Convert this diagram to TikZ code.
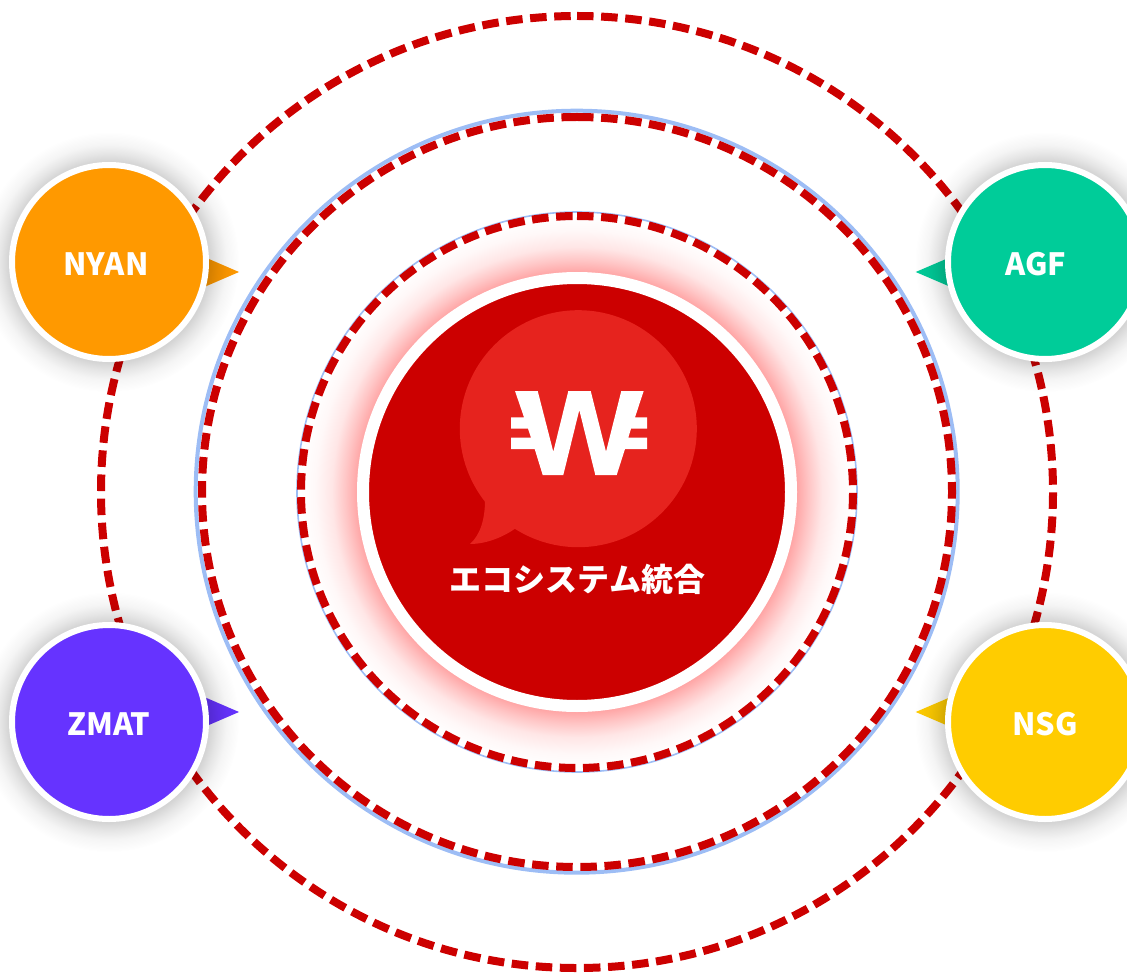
\documentclass[tikz,border=0pt]{standalone}
\usepackage{fontspec}
\newfontfamily\cjkfont{Noto Sans CJK JP}
\usetikzlibrary{fadings}

\definecolor{ringred}{RGB}{204,0,0}
\definecolor{ringblue}{RGB}{157,189,245}
\definecolor{bubblered}{RGB}{230,35,30}
\definecolor{nyanorange}{RGB}{255,153,0}
\definecolor{agfgreen}{RGB}{0,204,153}
\definecolor{zmatviolet}{RGB}{102,51,255}
\definecolor{nsgyellow}{RGB}{255,204,0}
\definecolor{glowa}{RGB}{255,165,165}
\definecolor{glowb}{RGB}{255,198,198}
\definecolor{glowc}{RGB}{255,230,230}
\definecolor{glowd}{RGB}{255,248,248}

\pgfdeclareradialshading{glowshade}{\pgfpointorigin}{color(0bp)=(glowa);color(19.9bp)=(glowa);color(21bp)=(glowb);color(22.2bp)=(glowc);color(23.7bp)=(glowd);color(25bp)=(white);color(50bp)=(white)}
\pgfdeclareradialshading{halomask}{\pgfpointorigin}{color(0bp)=(white!17!black);color(19.2bp)=(white!17!black);color(20.8bp)=(white!10!black);color(22.5bp)=(white!4!black);color(25bp)=(black);color(50bp)=(black)}
\pgfdeclarefading{halofade}{\pgfuseshading{halomask}}

\begin{document}
\begin{tikzpicture}[x=0.75pt,y=0.75pt,yscale=-1,xscale=1,
  dashring/.style={color=ringred,line width=6pt,dash pattern={on 12.4pt off 5.7pt}},
  satring/.style={draw=white,line width=4.5pt},
  halo/.style={fill=black,path fading=halofade},
  satlabel/.style={text=white,font=\cjkfont\bfseries\fontsize{23}{28}\selectfont,inner sep=0pt}]
\useasboundingbox (0,0) rectangle (1127,973);
\clip (0,0) rectangle (1127,973);

%Shape: Outer dashed ring
\draw [dashring] (577,16) arc [start angle=-90,end angle=270,radius=476];

%Shape: Middle ring
\draw [color=ringblue,line width=3pt] (576.7,491.7) circle [radius=381];
\draw [dashring] (577,117) arc [start angle=-90,end angle=270,radius=375];

%Shape: Glow
\shade [shading=glowshade] (577,492) circle [radius=276];
\draw [color=ringblue,line width=1.2pt] (577,492) circle [radius=280];
\draw [dashring] (577,216) arc [start angle=-90,end angle=270,radius=276];

%Shape: Centre disc
\draw [draw=white,fill=ringred,line width=9pt] (577,492) circle [radius=214];

%Shape: Speech bubble
\fill [color=bubblered] (578.3,428.7) circle [radius=118.5];
\fill [color=bubblered] (485,500) .. controls (485,520) and (480,535) .. (470,544) .. controls (485,544) and (502,538) .. (516,528) -- (540,480) -- cycle;

%Shape: Logo
\fill [color=white] (515,391) -- (537.7,391) -- (553.3,451.7) -- (568.3,391) -- (590.7,391) -- (606,451.7) -- (621.3,391) -- (643.7,391) -- (635,417.3) -- (647,417.3) -- (647,428.7) -- (631,428.7) -- (628.3,437.7) -- (647,437.7) -- (647,449) -- (625,449) -- (616.7,475) -- (595.3,475) -- (579.3,410) -- (563.3,475) -- (542.7,475) -- (534.7,449) -- (511,449) -- (511,437.7) -- (531,437.7) -- (528,428.7) -- (511,428.7) -- (511,417.3) -- (524,417.3) -- cycle;

% Text Node
\node [text=white,font=\cjkfont\bfseries\fontsize{24}{28}\selectfont,inner sep=0pt] (ecosystem) at (577.5,579) {エコシステム統合};

%Shape: Pointers
\fill [color=nyanorange] (239,272) -- (195,253) -- (195,291) -- cycle;
\fill [color=agfgreen] (915.7,272) -- (960,253) -- (960,291) -- cycle;
\fill [color=zmatviolet] (239,712) -- (195,693) -- (195,731) -- cycle;
\fill [color=nsgyellow] (915.7,712) -- (960,693) -- (960,731) -- cycle;

%Shape: Shadows
\path [halo] (109,262) circle [radius=130];
\path [halo] (1045,262) circle [radius=130];
\path [halo] (109,722) circle [radius=130];
\path [halo] (1045,722) circle [radius=130];

%Shape: Satellites
\draw [satring,fill=nyanorange] (109,262) circle [radius=97];
\draw [satring,fill=agfgreen] (1045,262) circle [radius=97];
\draw [satring,fill=zmatviolet] (109,722) circle [radius=97];
\draw [satring,fill=nsgyellow] (1045,722) circle [radius=97];

% Text Node
\node [satlabel] (nyan) at (106,264) {NYAN};
% Text Node
\node [satlabel] (agf) at (1036,264) {AGF};
% Text Node
\node [satlabel] (zmat) at (109,724) {ZMAT};
% Text Node
\node [satlabel] (nsg) at (1045,724) {NSG};

\end{tikzpicture}
\end{document}
